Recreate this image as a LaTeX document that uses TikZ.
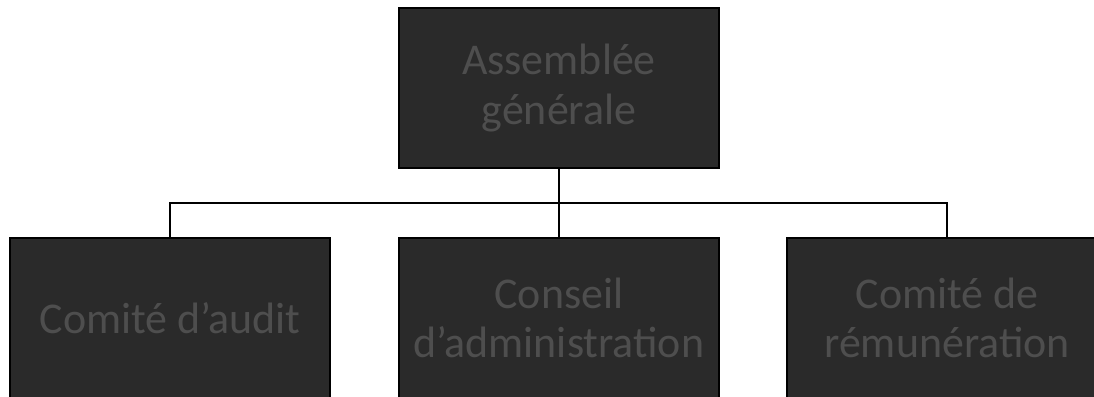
\documentclass[tikz,border=0pt]{standalone}
\usepackage{fontspec}
\setmainfont{Carlito}
\definecolor{boxfill}{RGB}{42,42,42}
\definecolor{boxtext}{RGB}{78,78,78}
\begin{document}
\begin{tikzpicture}[x=0.02cm,y=-0.02cm,
  orgbox/.style={draw=black, line width=1pt, fill=boxfill, text=boxtext,
    minimum width=6.4cm, minimum height=3.2cm, inner sep=0pt, align=center,
    font=\fontsize{25}{28}\selectfont},
  link/.style={draw=black, line width=0.9pt}]
\useasboundingbox (0,0) rectangle (1094,396);
\node[orgbox] (top) at (559,88) {Assemblée\\générale};
\node[orgbox] (a) at (170,318) {Comité d'audit};
\node[orgbox] (b) at (559,318) {Conseil\\d'administration};
\node[orgbox] (c) at (947,318) {Comité de\\rémunération};
\coordinate (j) at (559,203);
\draw[link] (top.south) -- (j);
\draw[link] (j) -- (b.north);
\draw[link] (a.north) |- (j);
\draw[link] (j) -| (c.north);
\end{tikzpicture}
\end{document}
